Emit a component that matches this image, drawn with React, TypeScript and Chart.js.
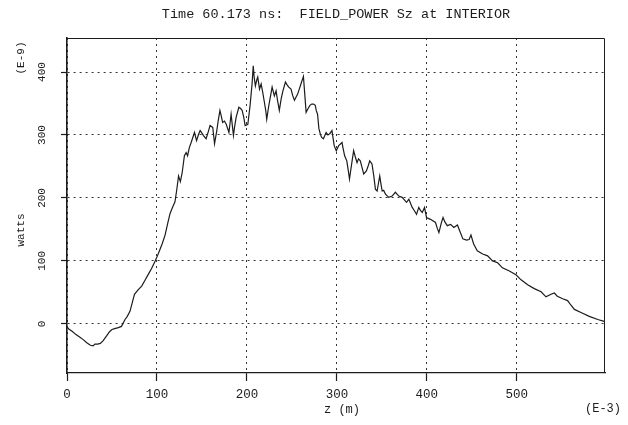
import React, { useEffect, useRef } from "react";
import { Chart, registerables } from "chart.js";

Chart.register(...registerables);

const TITLE = "Time 60.173 ns:  FIELD_POWER Sz at INTERIOR";
const X_TITLE = "z (m)";
const Y_TITLE = "watts";
const X_EXPONENT = "(E-3)";
const Y_EXPONENT = "(E-9)";

const X_MIN = 0;
const X_MAX = 598;
const Y_MIN = -78;
const Y_MAX = 454;
const X_TICKS = [0, 100, 200, 300, 400, 500];
const Y_TICKS = [0, 100, 200, 300, 400];

const Z_VALUES = [
  0, 2, 6, 10, 14, 18, 22, 26, 29, 31, 34, 37, 40, 42, 45, 47.5, 50, 53, 57, 60.5,
  62, 64.5, 67, 70, 73, 75, 79, 83, 87, 90.5, 94, 98, 100.5, 103, 106, 109, 112, 114.5, 117, 120,
  122, 124, 126, 128, 130.5, 132.4, 134, 136, 138, 141.7, 144, 146, 148, 150, 151.7, 154.6, 157, 159, 162, 164,
  166.5, 168, 170, 171.5, 173, 175, 177, 180, 182.4, 185, 186.5, 188, 191, 193, 194.7, 196.5, 198, 201, 203.5, 205.7,
  207, 208, 209.4, 211, 212, 214, 215.8, 217.5, 219.4, 221, 222, 224, 226, 228, 230.5, 232.4, 234, 236,
  238, 240, 242.8, 244.5, 246.5, 249, 251, 252.8, 254.5, 256.4, 258, 260, 262.8, 264, 265.8, 268, 270, 272,
  274, 276, 277, 278.5, 280, 281.5, 283, 285, 288, 290, 292, 294.5, 297, 299.3, 302, 305.7, 307, 308.6, 311, 312.5,
  314, 316, 318.6, 320.5, 322.4, 324, 326, 328, 329.8, 332.8, 335, 336.5, 339, 341, 342.8, 344.7, 347.6, 349, 350.3, 352,
  354, 357.6, 361.4, 365, 368.8, 372.5, 375, 377.4, 380, 383.7, 386, 388.5, 391, 393, 394.9, 397.4, 399.6, 404, 409.6, 411.5,
  413.4, 416, 418, 420, 422.7, 426.4, 430, 434, 437, 440, 444, 447, 449, 452, 456, 462, 467.5, 473, 478.7, 484,
  491.7, 499, 504.7, 512, 519.4, 527, 532.4, 538, 541.7, 545, 551, 556.4, 560, 564, 571.3, 580.5, 590, 597,
];

const POWER_VALUES = [
  -5, -8, -12, -17, -21, -25, -30, -34, -35, -32, -32, -31, -27, -23, -17, -12, -9, -7.5, -6, -4,
  0, 7, 12, 20, 36, 47, 54, 60, 70, 79, 88, 100, 108, 117, 128, 141, 160, 175, 184, 194,
  213, 235, 226, 240, 267, 272, 267, 280, 288, 304, 291, 300, 307, 303, 299, 294, 305, 315, 312, 286,
  307, 322, 339, 330, 320, 322, 317, 304, 333, 299, 315, 328, 344, 342, 339, 328, 315, 317, 347, 381,
  410, 392, 378, 388, 392, 373, 381, 368, 352, 338, 325, 344, 360, 376, 362, 370, 355, 339,
  357, 370, 384, 380, 376, 373, 362, 355, 360, 365, 372, 381, 393, 370, 336, 342, 347, 349,
  349, 347, 339, 333, 310, 302, 296, 294, 304, 300, 302, 307, 283, 275, 283, 288, 278, 267, 259, 245,
  230, 250, 275, 265, 256, 262, 259, 248, 238, 243, 252, 259, 254, 235, 214, 211, 235, 222, 211, 212,
  206, 201, 203, 209, 203, 201, 197, 193, 198, 185, 180, 174, 185, 180, 177, 185, 169, 166, 161, 152,
  145, 160, 169, 162, 156, 158, 153, 157, 146, 135, 133, 134, 141, 127, 116, 111, 108, 100, 97, 89,
  84, 78, 70, 62, 56, 51, 43, 47, 49, 44, 40, 37, 30, 23, 18, 12, 7, 4,
];

const FONT = "'Liberation Mono', 'DejaVu Sans Mono', monospace";
const INK = "#1c1c1c";

const extraLabels = {
  id: "extraLabels",
  afterDraw(chart: any) {
    const { ctx, chartArea } = chart;
    ctx.save();
    // frame around plot area (top and right sides)
    ctx.strokeStyle = INK;
    ctx.lineWidth = 1;
    ctx.setLineDash([]);
    ctx.beginPath();
    ctx.moveTo(chartArea.left, chartArea.top + 0.5);
    ctx.lineTo(chartArea.right - 0.5, chartArea.top + 0.5);
    ctx.lineTo(chartArea.right - 0.5, chartArea.bottom);
    ctx.stroke();

    ctx.fillStyle = INK;
    ctx.textAlign = "center";
    ctx.textBaseline = "middle";
    ctx.font = `11px ${FONT}`;
    const rotated: [string, number, number][] = [
      [Y_EXPONENT, chartArea.left - 46, chartArea.top + 20],
      [Y_TITLE, chartArea.left - 46, chartArea.top + 192],
    ];
    for (const [text, x, y] of rotated) {
      ctx.save();
      ctx.translate(x, y);
      ctx.rotate(-Math.PI / 2);
      ctx.fillText(text, 0, 0);
      ctx.restore();
    }
    ctx.font = `12px ${FONT}`;
    ctx.fillText(X_EXPONENT, chartArea.right - 2, chartArea.bottom + 36);
    ctx.fillText(X_TITLE, (chartArea.left + chartArea.right) / 2 + 6, chartArea.bottom + 37);
    ctx.restore();
  },
};

export default function App() {
  const canvasRef = useRef<HTMLCanvasElement | null>(null);

  useEffect(() => {
    const canvas = canvasRef.current;
    if (!canvas) return;
    const points = Z_VALUES.map((z, i) => ({ x: z, y: POWER_VALUES[i] }));
    const chart = new Chart(canvas, {
      type: "line",
      data: {
        datasets: [
          {
            data: points,
            borderColor: INK,
            borderWidth: 1.2,
            pointRadius: 0,
            tension: 0,
            fill: false,
          },
        ],
      },
      options: {
        responsive: false,
        animation: false,
        devicePixelRatio: 1,
        layout: { padding: { left: 0, right: 23, top: 0, bottom: 0 } },
        plugins: {
          legend: { display: false },
          tooltip: { enabled: false },
          title: {
            display: true,
            text: TITLE,
            fullSize: false,
            color: INK,
            font: { family: FONT, size: 13.5, weight: "normal" },
            padding: { top: 6, bottom: 15.8 },
          },
        },
        scales: {
          x: {
            type: "linear",
            min: X_MIN,
            max: X_MAX,
            afterBuildTicks: (s: any) => {
              s.ticks = X_TICKS.map((v) => ({ value: v }));
            },
            afterFit: (s: any) => {
              s.height = 52;
            },
            ticks: {
              color: INK,
              font: { family: FONT, size: 12.5 },
              padding: 6,
              maxRotation: 0,
              autoSkip: false,
            },
            grid: {
              color: "#333",
              lineWidth: 1,
              tickLength: 8,
              tickColor: INK,
              tickWidth: 1.2,
              tickBorderDash: [],
            },
            border: { display: true, color: INK, width: 1.2, dash: [2, 4] },
          },
          y: {
            type: "linear",
            min: Y_MIN,
            max: Y_MAX,
            afterBuildTicks: (s: any) => {
              s.ticks = Y_TICKS.map((v) => ({ value: v }));
            },
            afterFit: (s: any) => {
              s.width = 67;
            },
            ticks: {
              color: INK,
              font: { family: FONT, size: 11 },
              padding: 9,
              minRotation: 90,
              maxRotation: 90,
              crossAlign: "center",
              autoSkip: false,
            },
            grid: {
              color: "#333",
              lineWidth: 1,
              tickLength: 6,
              tickColor: INK,
              tickWidth: 1.2,
              tickBorderDash: [],
            },
            border: { display: true, color: INK, width: 1.6, dash: [2, 4] },
          },
        },
      },
      plugins: [extraLabels],
    } as any);
    return () => chart.destroy();
  }, []);

  return (
    <div style={{ position: "fixed", left: 0, top: 0, width: 628, height: 425, background: "#fff" }}>
      <canvas ref={canvasRef} width={628} height={425} />
    </div>
  );
}
